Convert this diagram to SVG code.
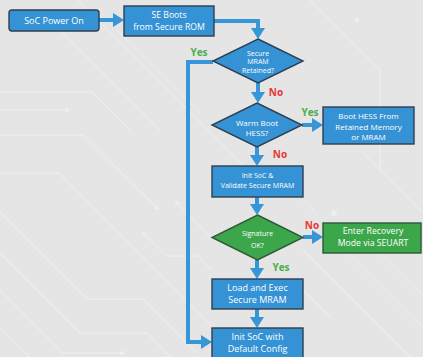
<svg xmlns="http://www.w3.org/2000/svg" width="423" height="357" viewBox="0 0 423 357">
  <style>
    .bg-trace { fill: none; stroke: #f1f1f1; stroke-width: 1; opacity: 0.9; }
    .bg-dot { fill: #efefef; }
    .box { fill: #3592d4; stroke: #2f3f4f; stroke-width: 1.4; }
    .ok { fill: #3ca64b; stroke: #2d5a35; stroke-width: 1.4; }
    .t { font-family: "Open Sans", "Noto Sans", "Liberation Sans", sans-serif; fill: #ffffff; text-anchor: middle; }
    .t9 { font-size: 9px; }
    .t88 { font-size: 8.7px; }
    .t8 { font-size: 8px; }
    .t7 { font-size: 7px; }
    .flow { fill: none; stroke: #3796d8; stroke-width: 4; stroke-linejoin: miter; }
    .yes { font-family: "Open Sans", "Noto Sans", "Liberation Sans", sans-serif; font-size: 10px; font-weight: bold; fill: #4cae50; text-anchor: middle; }
    .no { font-family: "Open Sans", "Noto Sans", "Liberation Sans", sans-serif; font-size: 10px; font-weight: bold; fill: #e53935; text-anchor: middle; }
  </style>
  <defs>
    <marker id="head" markerUnits="userSpaceOnUse" markerWidth="12" markerHeight="14" refX="0" refY="7" orient="auto">
      <path d="M0,0 L11,7 L0,14 z" fill="#3796d8"/>
    </marker>
  </defs>

  <!-- backdrop with faint circuit traces -->
  <rect width="423" height="357" fill="#e5e5e5"/>
  <g id="backdrop">
    <path class="bg-trace" d="M0,92 H92 L130,130"/>
    <path class="bg-trace" d="M0,110 H67"/>
    <circle class="bg-dot" cx="67" cy="110" r="2"/>
    <path class="bg-trace" d="M60,30 L160,130"/>
    <path class="bg-trace" d="M78,0 L245,167"/>
    <path class="bg-trace" d="M117,30 L200,113"/>
    <path class="bg-trace" d="M0,135 H83 L157,208"/>
    <circle class="bg-dot" cx="157" cy="208" r="2"/>
    <path class="bg-trace" d="M0,173 H59 L212,326"/>
    <path class="bg-trace" d="M0,212 L87,299 H143 L197,353"/>
    <path class="bg-trace" d="M0,253 L80,333 H147 L171,357"/>
    <path class="bg-trace" d="M0,290 L63,353 H122"/>
    <circle class="bg-dot" cx="122" cy="353" r="2"/>
    <path class="bg-trace" d="M0,329 L30,357"/>
    <path class="bg-trace" d="M144,234 L167,256 H198 L212,270"/>
    <circle class="bg-dot" cx="144" cy="234" r="2"/>
    <path class="bg-trace" d="M177,203 L212,238"/>
    <circle class="bg-dot" cx="177" cy="203" r="2"/>
    <path class="bg-trace" d="M310,0 L380,70 V170"/>
    <circle class="bg-dot" cx="357" cy="20" r="2"/>
    <path class="bg-trace" d="M363,153 L423,213"/>
    <circle class="bg-dot" cx="334" cy="213" r="3"/>
    <path class="bg-trace" d="M303,250 L410,357"/>
    <path class="bg-trace" d="M345,250 L423,328"/>
    <path class="bg-trace" d="M377,250 L423,296"/>
    <path class="bg-trace" d="M303,200 L318,215"/>
    <path class="bg-trace" d="M303,290 L330,317"/>
  </g>

  <!-- connectors -->
  <g id="connectors">
    <path class="flow" d="M99,20 H113" marker-end="url(#head)"/>
    <path class="flow" d="M214,21 H258 V28" marker-end="url(#head)"/>
    <path class="flow" d="M258,83 V92" marker-end="url(#head)"/>
    <path class="flow" d="M213,62 H188 V342 H201" marker-end="url(#head)"/>
    <path class="flow" d="M302,125 H312" marker-end="url(#head)"/>
    <path class="flow" d="M257,147 V155" marker-end="url(#head)"/>
    <path class="flow" d="M257,197 V204" marker-end="url(#head)"/>
    <path class="flow" d="M303,237 H312" marker-end="url(#head)"/>
    <path class="flow" d="M257,260 V268" marker-end="url(#head)"/>
    <path class="flow" d="M257,309 V317" marker-end="url(#head)"/>
    <text class="yes" x="199" y="56">Yes</text>
    <text class="no" x="276" y="96">No</text>
    <text class="yes" x="310" y="116">Yes</text>
    <text class="no" x="280" y="158">No</text>
    <text class="no" x="312" y="229">No</text>
    <text class="yes" x="281" y="271">Yes</text>
  </g>

  <g id="power-on">
    <rect class="box" x="9" y="10" width="90" height="21" rx="3"/>
    <text class="t t9" x="54" y="23.5">SoC Power On</text>
  </g>

  <g id="se-boots">
    <rect class="box" x="124" y="6" width="90" height="30"/>
    <text class="t t88" x="169" y="17.5">SE Boots</text>
    <text class="t t88" x="169" y="29.5">from Secure ROM</text>
  </g>

  <g id="mram-retained">
    <polygon class="box" points="258,39 303,61 258,83 213,61"/>
    <text class="t t7" x="258" y="55.5">Secure</text>
    <text class="t t7" x="258" y="64">MRAM</text>
    <text class="t t7" x="258" y="72.5">Retained?</text>
  </g>

  <g id="warm-boot">
    <polygon class="box" points="257,103 302,125 257,147 212,125"/>
    <text class="t t8" x="257" y="126">Warm Boot</text>
    <text class="t t8" x="257" y="136">HESS?</text>
  </g>

  <g id="boot-hess">
    <rect class="box" x="323" y="107" width="91" height="37"/>
    <text class="t t8" x="368.5" y="119">Boot HESS From</text>
    <text class="t t8" x="368.5" y="129.5">Retained Memory</text>
    <text class="t t8" x="368.5" y="140">or MRAM</text>
  </g>

  <g id="validate">
    <rect class="box" x="212" y="166" width="91" height="31"/>
    <text class="t t7" x="257.5" y="178">Init SoC &amp;</text>
    <text class="t t7" x="257.5" y="188">Validate Secure MRAM</text>
  </g>

  <g id="signature">
    <polygon class="ok" points="257.5,215 303,237.5 257.5,260 212,237.5"/>
    <text class="t t7" x="257.5" y="235.5">Signature</text>
    <text class="t t7" x="257.5" y="247.5">OK?</text>
  </g>

  <g id="recovery">
    <rect class="ok" x="323" y="223" width="98" height="30"/>
    <text class="t t88" x="373" y="233.5">Enter Recovery</text>
    <text class="t t88" x="373" y="245.5">Mode via SEUART</text>
  </g>

  <g id="load-exec">
    <rect class="box" x="212" y="279" width="91" height="30"/>
    <text class="t t9" x="257.5" y="291">Load and Exec</text>
    <text class="t t9" x="257.5" y="303">Secure MRAM</text>
  </g>

  <g id="default-config">
    <rect class="box" x="212" y="328" width="91" height="34"/>
    <text class="t t9" x="257.5" y="339.5">Init SoC with</text>
    <text class="t t9" x="257.5" y="352">Default Config</text>
  </g>
</svg>
